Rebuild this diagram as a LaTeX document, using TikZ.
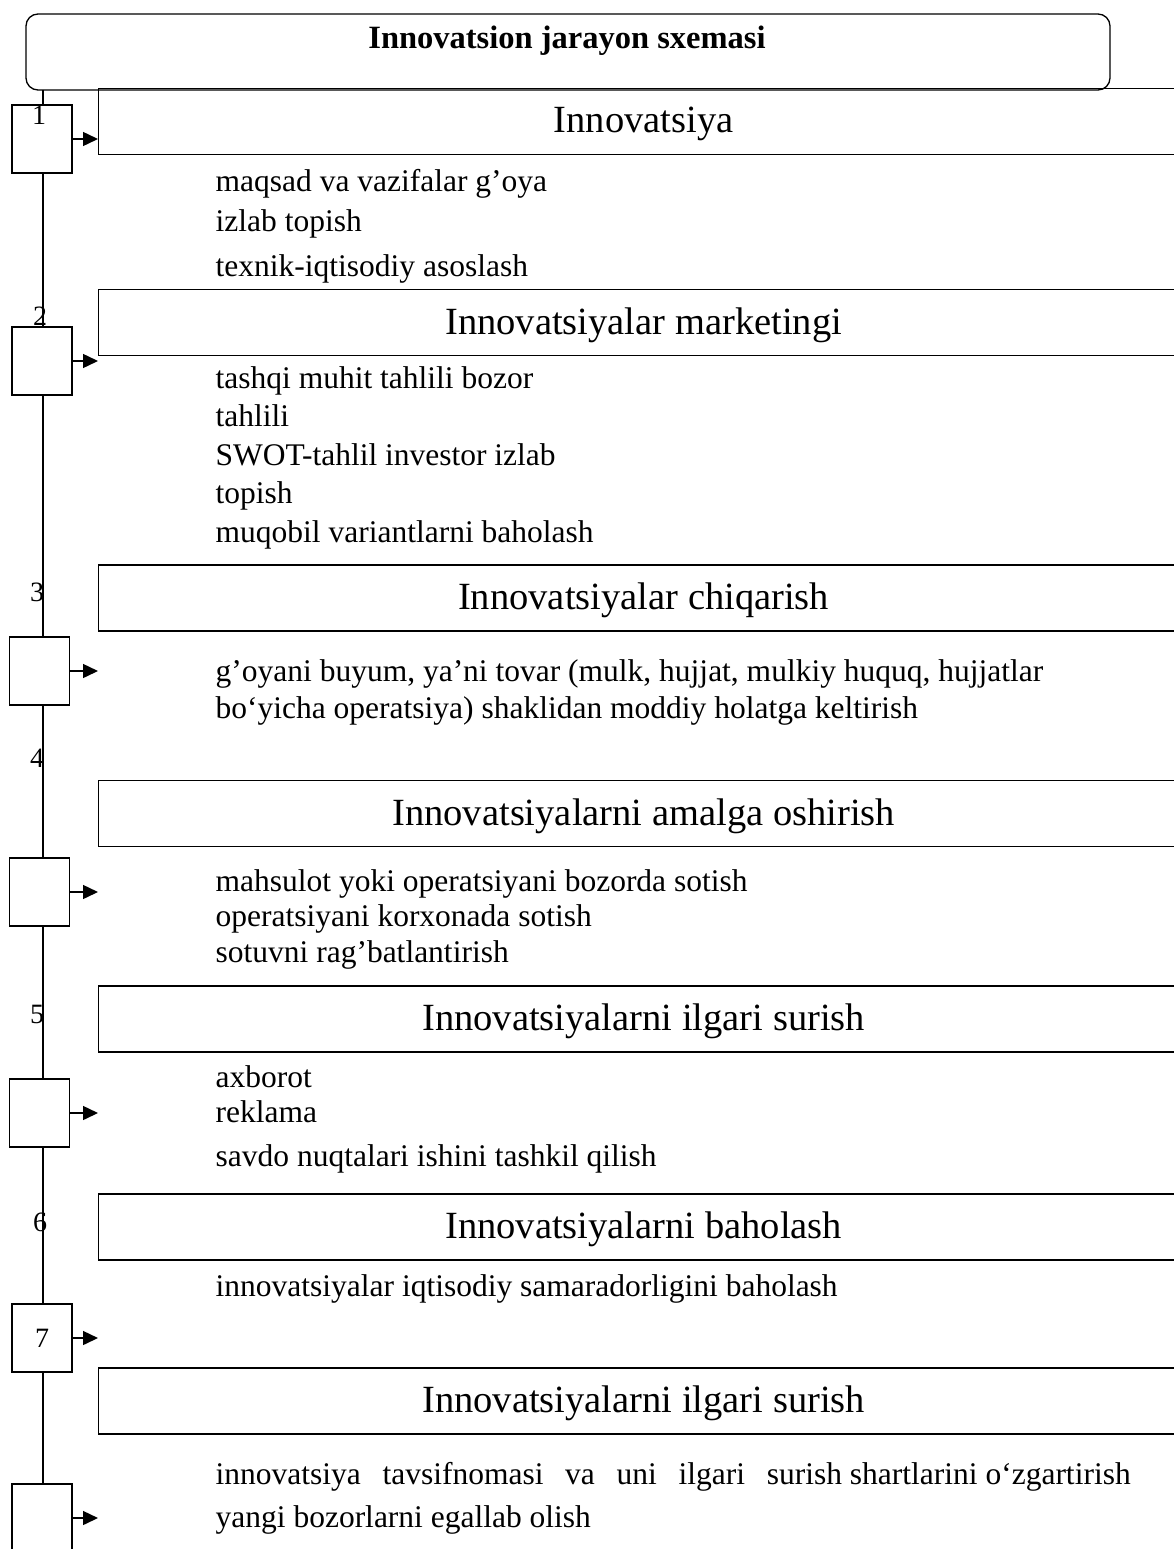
\documentclass[tikz,border=0pt]{standalone}
\usepackage{fontspec}
\setmainfont{Liberation Serif}
\usetikzlibrary{arrows.meta}
\begin{document}
\begin{tikzpicture}[x=1pt,y=-1pt,line width=1.3pt,
  hdr/.style={draw,rectangle,minimum height=66pt,minimum width=1090pt,anchor=west,inner sep=0pt,text height=31pt,text depth=8pt,font=\fontsize{38.5}{42}\selectfont},
  sbox/.style={draw,fill=white,rectangle,minimum width=60pt,minimum height=68pt,inner sep=0pt,font=\fontsize{28}{30}\selectfont},
  txt/.style={anchor=mid west,inner sep=0pt,font=\fontsize{31.5}{34}\selectfont},
  num/.style={inner sep=0pt,font=\fontsize{28}{30}\selectfont},
  arr/.style={-{Triangle[length=15pt,width=14pt]},line width=1.5pt}]
\useasboundingbox (0,0) rectangle (1174,1549);
\clip (0,0) rectangle (1174,1549);
% vertical line
\coordinate (ltop) at (43,90);
\coordinate (lbot) at (43,1560);
\draw (ltop) -- (lbot);
% header boxes
\node[hdr] (h1) at (98,121.5) {Innovatsiya};
\node[hdr] (h2) at (98,322.5) {Innovatsiyalar marketingi};
\node[hdr] (h3) at (98,598) {Innovatsiyalar chiqarish};
\node[hdr] (h4) at (98,813.5) {Innovatsiyalarni amalga oshirish};
\node[hdr] (h5) at (98,1019) {Innovatsiyalarni ilgari surish};
\node[hdr] (h6) at (98,1227) {Innovatsiyalarni baholash};
\node[hdr] (h8) at (98,1401) {Innovatsiyalarni ilgari surish};
% title
\node[draw,rounded corners=12pt,minimum width=1084pt,minimum height=76pt,inner sep=0pt] (title) at (568,52) {};
\node[inner sep=0pt,anchor=base,font=\bfseries\fontsize{32.5}{34}\selectfont] (ttext) at (567,49) {Innovatsion jarayon sxemasi};
% small boxes
\node[sbox] (s1) at (42,139) {};
\node[sbox] (s2) at (42,361) {};
\node[sbox] (s3) at (39.5,671) {};
\node[sbox] (s4) at (39.5,892) {};
\node[sbox] (s5) at (39.5,1113) {};
\node[sbox] (s7) at (42,1338) {7};
\node[sbox] (s8) at (42,1518) {};
% numbers
\node[num] (n1) at (39,115) {1};
\node[num] (n2) at (40,316) {2};
\node[num] (n3) at (37,592) {3};
\node[num] (n4) at (37,758) {4};
\node[num] (n5) at (37,1014) {5};
\node[num] (n6) at (40,1222) {6};
% arrows
\coordinate (a1) at (98,139);
\coordinate (a2) at (98,361);
\coordinate (a3) at (98,671);
\coordinate (a4) at (98,892);
\coordinate (a5) at (98,1113);
\coordinate (a7) at (98,1338);
\coordinate (a8) at (98,1518);
\draw[arr] (s1.east) -- (a1);
\draw[arr] (s2.east) -- (a2);
\draw[arr] (s3.east) -- (a3);
\draw[arr] (s4.east) -- (a4);
\draw[arr] (s5.east) -- (a5);
\draw[arr] (s7.east) -- (a7);
\draw[arr] (s8.east) -- (a8);
% texts
\node[txt] (t11) at (215,189) {maqsad va vazifalar g’oya};
\node[txt] (t12) at (215,229) {izlab topish};
\node[txt] (t13) at (215,274) {texnik-iqtisodiy asoslash};
\node[txt] (t21) at (215,386) {tashqi muhit tahlili bozor};
\node[txt] (t22) at (215,424) {tahlili};
\node[txt] (t23) at (215,463) {SWOT-tahlil investor izlab};
\node[txt] (t24) at (215,501) {topish};
\node[txt] (t25) at (215,540) {muqobil variantlarni baholash};
\node[txt] (t31) at (215,679) {g’oyani buyum, ya’ni tovar (mulk, hujjat, mulkiy huquq, hujjatlar};
\node[txt] (t32) at (215,716) {bo‘yicha operatsiya) shaklidan moddiy holatga keltirish};
\node[txt] (t41) at (215,889) {mahsulot yoki operatsiyani bozorda sotish};
\node[txt] (t42) at (215,924) {operatsiyani korxonada sotish};
\node[txt] (t43) at (215,960) {sotuvni rag’batlantirish};
\node[txt] (t51) at (215,1085) {axborot};
\node[txt] (t52) at (215,1120) {reklama};
\node[txt] (t53) at (215,1164) {savdo nuqtalari ishini tashkil qilish};
\node[txt] (t61) at (215,1294) {innovatsiyalar iqtisodiy samaradorligini baholash};
\node[txt] (t81) at (215,1482) {\makebox[915pt][l]{innovatsiya\hfill tavsifnomasi\hfill va\hfill uni\hfill ilgari\hfill surish shartlarini o‘zgartirish}};
\node[txt] (t82) at (215,1525) {yangi bozorlarni egallab olish};
\end{tikzpicture}
\end{document}
